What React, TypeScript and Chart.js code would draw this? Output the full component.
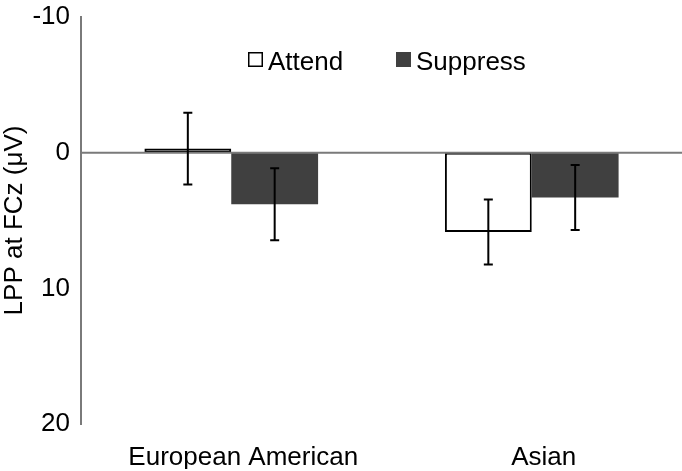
import React, { useEffect, useRef } from 'react';
import { Chart, registerables } from 'chart.js';
Chart.register(...registerables);

const categories = ['European American', 'Asian'];
const seriesNames = ['Attend', 'Suppress'];
const attendValues = [-0.3, 5.85];
const suppressValues = [3.8, 3.3];
const attendErrors = [2.65, 2.4];
const suppressErrors = [2.65, 2.4];
const yMin = -10;
const yMax = 20;
const yStep = 10;

const FONT = '"Liberation Sans", Arial, Helvetica, sans-serif';
const DARK = '#404040';
const AXIS = '#7a7a7a';

const zeroLinePlugin = {
  id: 'zeroLine',
  afterDatasetsDraw(chart: any) {
    const { ctx, chartArea, scales } = chart;
    const y = scales.y.getPixelForValue(0);
    ctx.save();
    ctx.strokeStyle = AXIS;
    ctx.lineWidth = 2;
    ctx.beginPath();
    ctx.moveTo(chartArea.left, y);
    ctx.lineTo(chartArea.right, y);
    ctx.stroke();
    ctx.restore();
  },
};

const errorBarPlugin = {
  id: 'errorBars',
  afterDatasetsDraw(chart: any) {
    const { ctx, scales } = chart;
    ctx.save();
    ctx.strokeStyle = '#000';
    ctx.lineWidth = 2;
    chart.data.datasets.forEach((ds: any, di: number) => {
      const meta = chart.getDatasetMeta(di);
      meta.data.forEach((bar: any, i: number) => {
        const v = ds.data[i];
        const e = ds.errors[i];
        const x = bar.x;
        const y1 = scales.y.getPixelForValue(v - e);
        const y2 = scales.y.getPixelForValue(v + e);
        const cap = 4.5;
        ctx.beginPath();
        ctx.moveTo(x, y1);
        ctx.lineTo(x, y2);
        ctx.moveTo(x - cap, y1);
        ctx.lineTo(x + cap, y1);
        ctx.moveTo(x - cap, y2);
        ctx.lineTo(x + cap, y2);
        ctx.stroke();
      });
    });
    ctx.restore();
  },
};

const legendPlugin = {
  id: 'customLegend',
  afterDraw(chart: any) {
    const { ctx } = chart;
    const items = [
      { x: 248, y: 52 },
      { x: 396, y: 52 },
    ];
    ctx.save();
    ctx.font = `26px ${FONT}`;
    ctx.textBaseline = 'alphabetic';
    ctx.textAlign = 'left';
    chart.data.datasets.forEach((ds: any, i: number) => {
      const p = items[i];
      const size = 15;
      if (i === 0) {
        ctx.fillStyle = '#fff';
        ctx.fillRect(p.x, p.y, size, size);
        ctx.strokeStyle = '#000';
        ctx.lineWidth = 1.5;
        ctx.strokeRect(p.x + 0.75, p.y + 0.75, size - 1.5, size - 1.5);
      } else {
        ctx.fillStyle = DARK;
        ctx.fillRect(p.x, p.y, size, size);
      }
      ctx.fillStyle = '#000';
      ctx.fillText(ds.label, p.x + size + 5, 70);
    });
    ctx.restore();
  },
};

export default function App() {
  const ref = useRef<HTMLCanvasElement>(null);
  useEffect(() => {
    document.body.style.margin = '0';
    const chart = new Chart(ref.current!, {
      type: 'bar',
      data: {
        labels: categories,
        datasets: [
          {
            label: seriesNames[0],
            data: attendValues,
            errors: attendErrors,
            backgroundColor: '#ffffff',
            borderColor: '#000000',
            borderWidth: 2,
            borderSkipped: false,
          } as any,
          {
            label: seriesNames[1],
            data: suppressValues,
            errors: suppressErrors,
            backgroundColor: DARK,
            borderWidth: 0,
          } as any,
        ],
      },
      options: {
        responsive: false,
        animation: false,
        devicePixelRatio: 1,
        layout: { padding: { left: 2, right: 0, top: 17, bottom: 2 } },
        datasets: { bar: { categoryPercentage: 0.578, barPercentage: 1 } },
        plugins: {
          legend: { display: false },
          tooltip: { enabled: false },
        },
        scales: {
          x: {
            grid: { display: false },
            border: { display: false },
            afterFit: (s: any) => { s.height = 45; s.paddingLeft = 0; s.paddingRight = 0; },
            ticks: {
              color: '#000',
              font: { family: FONT, size: 26 },
              padding: 10,
              labelOffset: 12,
            },
          },
          y: {
            min: yMin,
            max: yMax,
            reverse: true,
            afterFit: (s: any) => { s.width = 79; s.paddingTop = 0; s.paddingBottom = 0; },
            grid: { display: false, drawTicks: false },
            border: { display: true, color: AXIS, width: 2 },
            ticks: {
              stepSize: yStep,
              color: '#000',
              font: { family: FONT, size: 26 },
              padding: 11,
            },
            title: {
              display: true,
              text: 'LPP at FCz (μV)',
              color: '#000',
              font: { family: FONT, size: 26, lineHeight: 1 },
              padding: { top: 0, bottom: 4 },
            },
          },
        },
      },
      plugins: [zeroLinePlugin, errorBarPlugin, legendPlugin],
    });
    return () => chart.destroy();
  }, []);
  return (
    <div style={{ position: 'absolute', left: 0, top: 0, width: 682, height: 471 }}>
      <canvas ref={ref} width={682} height={471} />
    </div>
  );
}
